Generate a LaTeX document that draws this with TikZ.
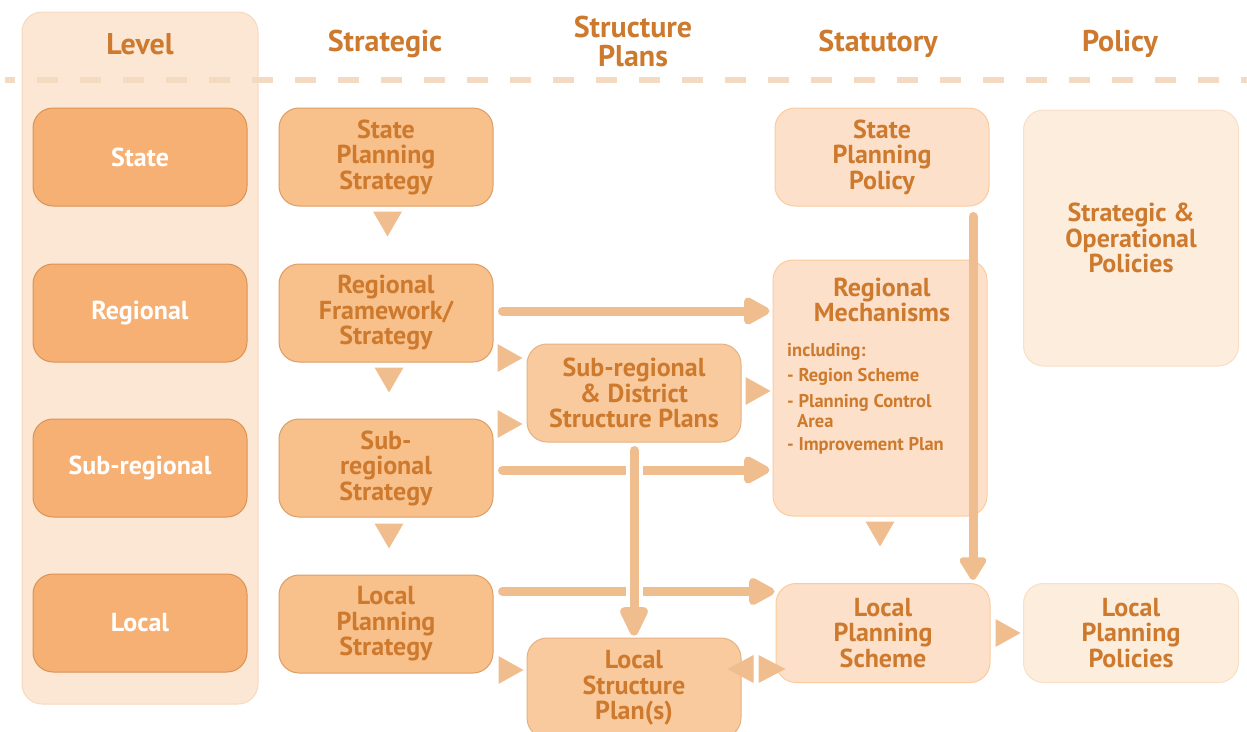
\documentclass[tikz,border=0pt]{standalone}
\usepackage{fontspec}
\setmainfont{PT Sans}
\usetikzlibrary{arrows.meta,calc,positioning}
\definecolor{colbg}{HTML}{FCE7D4}
\definecolor{colbgd}{HTML}{F6D9BE}
\definecolor{lvlfill}{HTML}{F7B073}
\definecolor{lvldraw}{HTML}{DA9255}
\definecolor{strfill}{HTML}{F8C08B}
\definecolor{strdraw}{HTML}{DD9E64}
\definecolor{spfill}{HTML}{F9CA9D}
\definecolor{spdraw}{HTML}{E6B283}
\definecolor{stafill}{HTML}{FDE0C9}
\definecolor{stadraw}{HTML}{FCCB9C}
\definecolor{polfill}{HTML}{FDEDDD}
\definecolor{poldraw}{HTML}{F8DFC6}
\definecolor{arrcol}{HTML}{F0BE8E}
\definecolor{txtcol}{HTML}{CD7A2E}
\definecolor{dashcol}{HTML}{F5DAC2}
\tikzset{
  box/.style={rounded corners=20pt, minimum width=214pt, minimum height=98pt, inner sep=0pt,
    align=center, line width=1pt, text=txtcol,
    font=\fontsize{26}{25.5}\selectfont\bfseries},
  lvlbox/.style={box, fill=lvlfill, draw=lvldraw, text=white},
  strbox/.style={box, fill=strfill, draw=strdraw},
  spbox/.style={box, fill=spfill, draw=spdraw},
  stabox/.style={box, fill=stafill, draw=stadraw},
  polbox/.style={box, fill=polfill, draw=poldraw, minimum width=215pt},
  header/.style={text=txtcol, align=center, inner sep=0pt,
    font=\fontsize{30}{29}\selectfont\bfseries},
  listtxt/.style={text=txtcol, align=left, anchor=west, inner sep=0pt,
    font=\fontsize{18.5}{18}\selectfont\bfseries},
  arr/.style={draw=arrcol, line width=9pt, line cap=round,
    -{Triangle[length=30pt,width=30pt,round=false]}},
  trifill/.style={fill=arrcol},
}
\newcommand\rtri[1]{\fill[trifill] ($(#1)+(0,-14)$) -- ($(#1)+(25,0)$) -- ($(#1)+(0,14)$) -- cycle;}
\newcommand\ltri[1]{\fill[trifill] ($(#1)+(0,-14)$) -- ($(#1)+(-26,0)$) -- ($(#1)+(0,14)$) -- cycle;}
\newcommand\dtri[1]{\fill[trifill] ($(#1)+(-14.5,0)$) -- ($(#1)+(0,25)$) -- ($(#1)+(14.5,0)$) -- cycle;}
\begin{document}
\begin{tikzpicture}[x=1pt,y=-1pt]
\useasboundingbox (0,0) rectangle (1247,731);
% level column
\node[draw=colbgd, fill=colbg, rounded corners=20pt, minimum width=236pt, minimum height=692pt, inner sep=0pt, line width=1pt] (lvlcol) at (140,358) {};
% dashed line
\coordinate (dl) at (5,80);
\coordinate (dr) at (1247,80);
\draw[dashcol, line width=6pt, dash pattern=on 21pt off 22pt, dash phase=11pt] (dl) -- (dr);
% headers
\node[header] (hlevel) at (140,44) {Level};
\node[header] (hstrat) at (385,44) {Strategic};
\node[header] (hsp) at (633,41) {Structure\\Plans};
\node[header] (hstat) at (878,44) {Statutory};
\node[header] (hpol) at (1120,44) {Policy};
% level boxes
\node[lvlbox] (lstate) at (140,157) {State};
\node[lvlbox] (lreg) at (140,313) {Regional};
\node[lvlbox] (lsub) at (140,468) {Sub-regional};
\node[lvlbox] (lloc) at (140,623) {Local};
% strategic boxes
\node[strbox] (ssp) at (386,157) {State\\Planning\\Strategy};
\node[strbox] (rfs) at (386,313) {Regional\\Framework/\\Strategy};
\node[strbox] (ssr) at (386,468) {Sub-\\regional\\Strategy};
\node[strbox] (lps) at (386,624) {Local\\Planning\\Strategy};
% structure plans
\node[spbox] (sdsp) at (634,393) {Sub-regional\\\& District\\Structure Plans};
\node[spbox, minimum height=100pt] (lsp) at (634,688) {Local\\Structure\\Plan(s)};
% statutory
\node[stabox] (spp) at (882,157) {State\\Planning\\Policy};
\node[stabox, minimum height=256pt] (rm) at (880,388) {};
\node[header, font=\fontsize{26}{25.5}\selectfont\bfseries] (rmt) at (882,300) {Regional\\Mechanisms};
\node[listtxt] (rml1) at (787,352) {including:};
\node[listtxt] (rml2) at (787,377) {- Region Scheme};
\node[listtxt] (rml3) at (787,403) {- Planning Control};
\node[listtxt] (rml4) at (797,421) {Area};
\node[listtxt] (rml5) at (787,446) {- Improvement Plan};
\node[stabox, minimum height=99pt] (lpsch) at (883,633) {Local\\Planning\\Scheme};
% policy
\node[polbox, minimum height=256pt] (sop) at (1131,238) {Strategic \&\\Operational\\Policies};
\node[polbox, minimum height=99pt] (lpp) at (1131,633) {Local\\Planning\\Policies};
% long horizontal arrows
\draw[arr, shorten >=3pt] ($(rfs.east)+(9,-2)$) -- ($(rm.west |- rfs.east)+(0,-2)$);
\coordinate (h2s) at ($(ssr.east)+(9,2)$);
\draw[arr, shorten >=3pt] (h2s) -- (rm.west |- h2s);
\coordinate (h3s) at ($(lps.north east)+(9,17)$);
\draw[arr, shorten >=1pt] (h3s) -- (lpsch.west |- h3s);
% vertical arrow from sub-regional & district plans
\draw[white, line width=17pt, shorten <=15pt, shorten >=40pt] (sdsp.south) -- (lsp.north);
\draw[arr, -{Triangle[length=35pt,width=30pt,round=false]}, shorten <=8pt, shorten >=2pt] (sdsp.south) -- (lsp.north);
% vertical arrow from state planning policy
\coordinate (vs) at ($(spp.south)+(91,10)$);
\draw[arr, -{Triangle[length=26pt,width=30pt,round=false]}, shorten >=3pt] (vs) -- (vs |- lpsch.north);
% small triangles
\coordinate (t1) at ($(ssp.south)+(1.5,5)$); \dtri{t1}
\coordinate (t2) at ($(rfs.south)+(3,5)$); \dtri{t2}
\coordinate (t3) at ($(ssr.south)+(3,6)$); \dtri{t3}
\coordinate (t4) at ($(rfs.east)+(4,45)$); \rtri{t4}
\coordinate (t5) at ($(ssr.east)+(4,-44)$); \rtri{t5}
\coordinate (t6) at ($(sdsp.east)+(4,-2)$); \rtri{t6}
\coordinate (t7) at ($(rm.south)+(0,5)$); \dtri{t7}
\coordinate (t8) at ($(lpsch.east)+(5,0)$); \rtri{t8}
\coordinate (t9) at ($(lps.east)+(5,46)$); \rtri{t9}
\coordinate (t10) at ($(lsp.east)+(12,-19)$); \ltri{t10}
\coordinate (t11) at ($(lpsch.west)+(-17,36)$);
\fill[trifill] ($(t11)+(0,-14)$) -- ($(t11)+(27,0)$) -- ($(t11)+(0,14)$) -- cycle;
\end{tikzpicture}
\end{document}
